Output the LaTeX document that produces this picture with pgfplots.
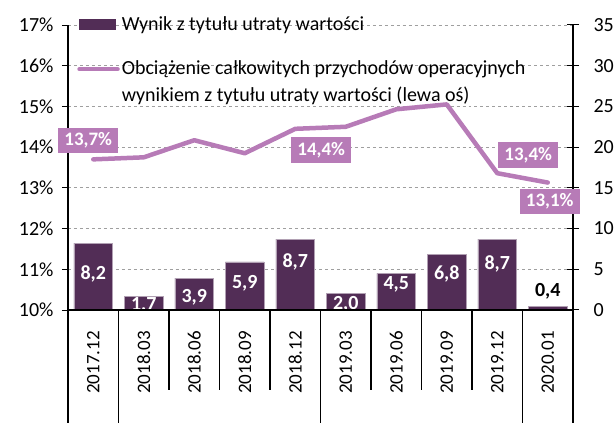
\documentclass[border=0pt]{standalone}
\usepackage{fontspec}
\setmainfont{Carlito}
\usepackage{pgfplots}
\pgfplotsset{compat=1.18}
\definecolor{barcol}{HTML}{522D56}
\definecolor{linecol}{HTML}{B77BB7}
\newcommand\ft{\fontsize{20bp}{24bp}\selectfont}
\newcommand\fx{\fontsize{19bp}{23bp}\selectfont}

\pgfplotsset{
  base/.style={
    scale only axis, width=505bp, height=285bp,
    at={(68bp,113bp)}, anchor=south west,
    xmin=-0.5, xmax=9.5,
    axis line style={black, line width=1.2bp},
    tick style={black, line width=1bp},
    /pgf/number format/assume math mode=true,
    tick label style={font=\ft},
  },
}

\begin{document}
\begin{tikzpicture}
\useasboundingbox (0,0) rectangle (614bp,423bp);

% bars, right axis
\begin{axis}[base,
  ymin=0, ymax=35, ytick={0,5,...,35},
  axis y line*=right, axis x line*=bottom, xtick=\empty,
  tick align=center, major tick length=12bp,
  yticklabel style={xshift=11bp},
  ymajorgrids, grid style={gray!75, dashed, line width=0.8bp},
]
\addplot[ybar, bar width=0.77, bar shift=0pt, fill=barcol, draw=barcol!45!white, line width=0.5bp]
  coordinates {(0,8.2) (1,1.7) (2,3.9) (3,5.9) (4,8.7) (5,2.0) (6,4.5) (7,6.8) (8,8.7) (9,0.4)};
\begin{scope}[every node/.style={font=\ft\bfseries, text=white}]
\node at (axis cs:0,4.4) {8,2};
\node at (axis cs:1,0.6) {1,7};
\node at (axis cs:2,1.6) {3,9};
\node at (axis cs:3,3.3) {5,9};
\node at (axis cs:4,5.9) {8,7};
\node at (axis cs:5,0.75) {2,0};
\node at (axis cs:6,3.2) {4,5};
\node at (axis cs:7,4.4) {6,8};
\node at (axis cs:8,5.65) {8,7};
\node[text=black] at (axis cs:9,2.35) {0,4};
\end{scope}
\end{axis}

% line, left axis
\begin{axis}[base,
  ymin=10, ymax=17, ytick={10,...,17},
  yticklabels={10\%,11\%,12\%,13\%,14\%,15\%,16\%,17\%},
  yticklabel style={xshift=-5bp},
  axis y line*=left, axis x line*=bottom,
  tick align=outside, major tick length=6bp,
  xtick={0,...,9},
  xticklabels={2017.12,2018.03,2018.06,2018.09,2018.12,2019.03,2019.06,2019.09,2019.12,2020.01},
  xticklabel style={rotate=90, anchor=east, inner sep=0pt, font=\fx},
  xticklabel shift=15bp,
  x tick style={draw=none},
  clip=false,
  legend style={at={(0.018,1.037)}, anchor=north west, draw=none, fill=none,
    font=\ft, inner sep=0pt, row sep=25bp,
    cells={anchor=west, align=left}},
]
\addlegendimage{legend image code/.code={\fill[barcol] (0bp,-5bp) rectangle (36bp,5bp);}}
\addlegendentry{Wynik z tytułu utraty wartości}
\addplot[linecol, line width=4.5bp, line join=round, line cap=round, mark=none,
  legend image code/.code={\draw[linecol, line width=4.5bp, line cap=round] (0bp,13bp) -- (38bp,13bp);}]
  coordinates {(0,13.7) (1,13.75) (2,14.17) (3,13.85) (4,14.45) (5,14.5) (6,14.93) (7,15.05) (8,13.36) (9,13.13)};
\addlegendentry{Obciążenie całkowitych przychodów operacyjnych\\[3bp]wynikiem z tytułu utraty wartości (lewa oś)}

\begin{scope}[every node/.style={fill=linecol, text=white, font=\fx\bfseries, inner xsep=6bp, inner ysep=5bp}]
\node at (axis cs:0,13.7) [xshift=-5bp, yshift=19bp] {13,7\%};
\node at (axis cs:4,14.45) [xshift=26bp, yshift=-21bp] {14,4\%};
\node at (axis cs:8,13.36) [xshift=31bp, yshift=18bp] {13,4\%};
\node at (axis cs:9,13.13) [xshift=2bp, yshift=-19bp] {13,1\%};
\end{scope}

% category separators
\draw[black, line width=1.1bp]
  (axis cs:1.5,10) -- ++(0bp,-80bp) (axis cs:2.5,10) -- ++(0bp,-80bp)
  (axis cs:3.5,10) -- ++(0bp,-80bp) (axis cs:5.5,10) -- ++(0bp,-80bp)
  (axis cs:6.5,10) -- ++(0bp,-80bp) (axis cs:7.5,10) -- ++(0bp,-80bp)
  (axis cs:-0.5,10) -- ++(0bp,-113bp) (axis cs:0.5,10) -- ++(0bp,-113bp)
  (axis cs:4.5,10) -- ++(0bp,-113bp) (axis cs:8.5,10) -- ++(0bp,-113bp)
  (axis cs:9.5,10) -- ++(0bp,-113bp);
\end{axis}
\end{tikzpicture}
\end{document}
